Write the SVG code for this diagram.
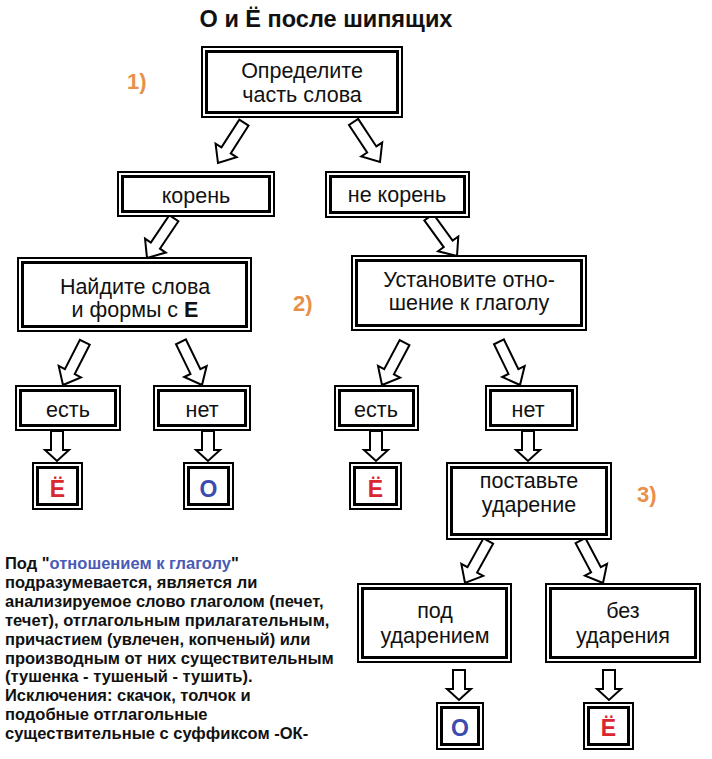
<svg xmlns="http://www.w3.org/2000/svg" xmlns:xlink="http://www.w3.org/1999/xlink" width="712" height="759" viewBox="0 0 712 759">
<style>
.o{fill:#fff;stroke:#000;stroke-width:2}
.i{fill:none;stroke:#000;stroke-width:3}
.t{font-family:"Liberation Sans",Arial,sans-serif;font-size:21.5px;fill:#111;text-anchor:middle}
.b{font-weight:bold}
.num{font-family:"Liberation Sans",Arial,sans-serif;font-size:22px;font-weight:bold;fill:#e8904a}
.yo{font-family:"Liberation Sans",Arial,sans-serif;font-size:23px;font-weight:bold;fill:#d9262f;text-anchor:middle}
.oo{font-family:"Liberation Sans",Arial,sans-serif;font-size:23px;font-weight:bold;fill:#3c4bb0;text-anchor:middle}
.note{font-family:"Liberation Sans",Arial,sans-serif;font-size:16.5px;font-weight:bold;fill:#111}
.arr{fill:#fff;stroke:#000;stroke-width:2;stroke-linejoin:miter}
</style>
<defs>
<path id="da" class="arr" d="M-48,-5.5 L-15,-5.5 L-15,-12.5 L0,0 L-15,12.5 L-15,5.5 L-48,5.5 Z"/>
<path id="va" class="arr" d="M-6,-30 L6,-30 L6,-11 L12,-11 L0,0 L-12,-11 L-6,-11 Z"/>
</defs>
<rect width="712" height="759" fill="#fff"/>
<text x="326" y="27" class="t b" style="font-size:23.5px">О и Ё после шипящих</text>
<text x="127" y="89" class="num">1)</text>
<text x="293" y="311" class="num">2)</text>
<text x="637" y="502" class="num">3)</text>

<g id="connectors">
<use xlink:href="#da" transform="translate(218,163) rotate(122.7)"/>
<use xlink:href="#da" transform="translate(380,162) rotate(56.6)"/>
<use xlink:href="#da" transform="translate(147,258) rotate(124)"/>
<use xlink:href="#da" transform="translate(457,256) rotate(54)"/>
<use xlink:href="#da" transform="translate(63,385) rotate(117)"/>
<use xlink:href="#da" transform="translate(202,385) rotate(64)"/>
<use xlink:href="#da" transform="translate(382,385) rotate(118)"/>
<use xlink:href="#da" transform="translate(520,385) rotate(64)"/>
<use xlink:href="#da" transform="translate(465,583) rotate(119)"/>
<use xlink:href="#da" transform="translate(603,583) rotate(62)"/>
<use xlink:href="#va" transform="translate(57,461)"/>
<use xlink:href="#va" transform="translate(208,461)"/>
<use xlink:href="#va" transform="translate(376,461)"/>
<use xlink:href="#va" transform="translate(528,461)"/>
<use xlink:href="#va" transform="translate(459,700)"/>
<use xlink:href="#va" transform="translate(609,700)"/>
</g>

<g id="n-part">
<rect class="o" x="202" y="47" width="200" height="70"/><rect class="i" x="206.5" y="51.5" width="191" height="61"/>
<text class="t" x="302" y="78">Определите</text>
<text class="t" x="302" y="102">часть слова</text>
</g>
<g id="n-root">
<rect class="o" x="118" y="172" width="156" height="44"/><rect class="i" x="122.5" y="176.5" width="147" height="35"/>
<text class="t" x="196" y="203">корень</text>
</g>
<g id="n-notroot">
<rect class="o" x="326" y="172" width="143" height="45"/><rect class="i" x="330.5" y="176.5" width="134" height="36"/>
<text class="t" x="397" y="202">не корень</text>
</g>
<g id="n-find">
<rect class="o" x="18" y="258" width="233" height="73"/><rect class="i" x="22.5" y="262.5" width="224" height="64"/>
<text class="t" x="135" y="294">Найдите слова</text>
<text class="t" x="135" y="317">и формы с <tspan class="b">Е</tspan></text>
</g>
<g id="n-verb">
<rect class="o" x="352" y="256" width="234" height="74"/><rect class="i" x="356.5" y="260.5" width="225" height="65"/>
<text class="t" x="469" y="287">Установите отно-</text>
<text class="t" x="469" y="310">шение к глаголу</text>
</g>
<g id="n-yes1">
<rect class="o" x="16" y="386" width="104" height="44"/><rect class="i" x="20.5" y="390.5" width="95" height="35"/>
<text class="t" x="68" y="417">есть</text>
</g>
<g id="n-no1">
<rect class="o" x="154" y="386" width="96" height="44"/><rect class="i" x="158.5" y="390.5" width="87" height="35"/>
<text class="t" x="202" y="417">нет</text>
</g>
<g id="n-yes2">
<rect class="o" x="335" y="386" width="83" height="44"/><rect class="i" x="339.5" y="390.5" width="74" height="35"/>
<text class="t" x="376" y="417">есть</text>
</g>
<g id="n-no2">
<rect class="o" x="486" y="386" width="91" height="44"/><rect class="i" x="490.5" y="390.5" width="82" height="35"/>
<text class="t" x="528" y="417">нет</text>
</g>
<g id="n-yo1">
<rect class="o" x="33" y="463" width="49" height="46"/><rect class="i" x="37.5" y="467.5" width="40" height="37"/>
<text class="yo" x="57.5" y="497">Ё</text>
</g>
<g id="n-o1">
<rect class="o" x="184" y="463" width="49" height="46"/><rect class="i" x="188.5" y="467.5" width="40" height="37"/>
<text class="oo" x="208.5" y="497">О</text>
</g>
<g id="n-yo2">
<rect class="o" x="350" y="463" width="51" height="46"/><rect class="i" x="354.5" y="467.5" width="42" height="37"/>
<text class="yo" x="375.5" y="497">Ё</text>
</g>
<g id="n-stress">
<rect class="o" x="447" y="463" width="164" height="76"/><rect class="i" x="451.5" y="467.5" width="155" height="67"/>
<text class="t" x="529" y="488">поставьте</text>
<text class="t" x="529" y="512">ударение</text>
</g>
<g id="n-stressed">
<rect class="o" x="358" y="584" width="153" height="78"/><rect class="i" x="362.5" y="588.5" width="144" height="69"/>
<text class="t" x="435" y="618">под</text>
<text class="t" x="435" y="643">ударением</text>
</g>
<g id="n-unstressed">
<rect class="o" x="546" y="584" width="154" height="78"/><rect class="i" x="550.5" y="588.5" width="145" height="69"/>
<text class="t" x="623" y="618">без</text>
<text class="t" x="623" y="643">ударения</text>
</g>
<g id="n-o2">
<rect class="o" x="437" y="703" width="46" height="46"/><rect class="i" x="441.5" y="707.5" width="37" height="37"/>
<text class="oo" x="460" y="736">О</text>
</g>
<g id="n-yo3">
<rect class="o" x="584" y="703" width="49" height="46"/><rect class="i" x="588.5" y="707.5" width="40" height="37"/>
<text class="yo" x="608.5" y="736">Ё</text>
</g>

<g id="note" class="note">
<text x="5" y="569">Под "<tspan fill="#4a5ab5">отношением к глаголу</tspan>"</text>
<text x="5" y="588">подразумевается, является ли</text>
<text x="5" y="607">анализируемое слово глаголом (печет,</text>
<text x="5" y="626">течет), отглагольным прилагательным,</text>
<text x="5" y="645">причастием (увлечен, копченый) или</text>
<text x="5" y="664">производным от них существительным</text>
<text x="5" y="682">(тушенка - тушеный - тушить).</text>
<text x="5" y="701">Исключения: скачок, толчок и</text>
<text x="5" y="720">подобные отглагольные</text>
<text x="5" y="739">существительные с суффиксом -ОК-</text>
</g>
</svg>
